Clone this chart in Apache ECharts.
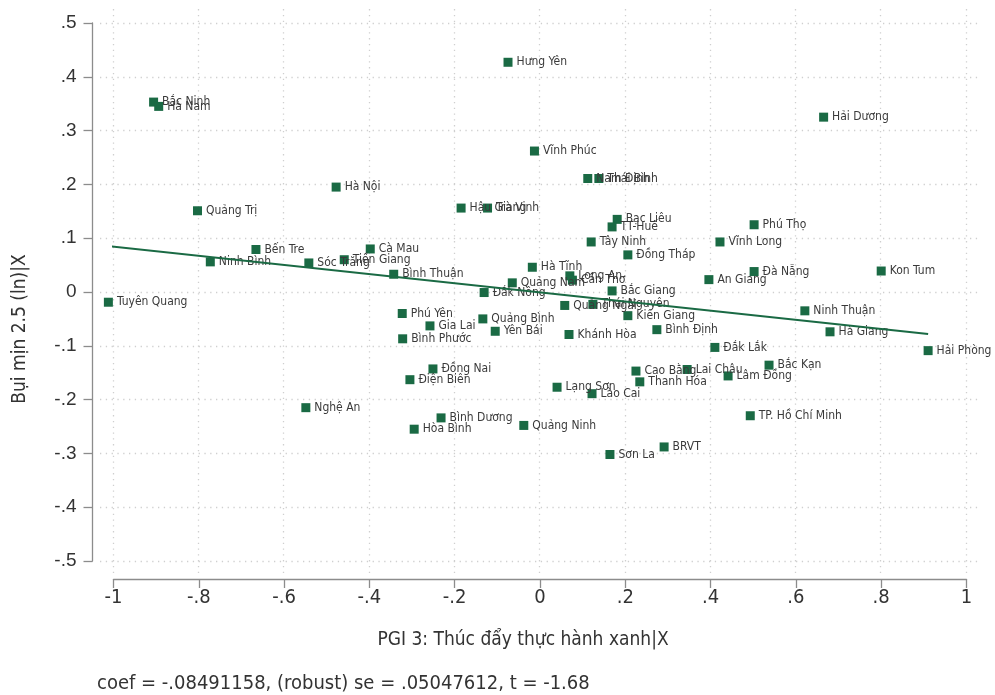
<!DOCTYPE html>
<html lang="vi">
<head>
<meta charset="UTF-8">
<title>Bụi mịn 2.5 - PGI 3</title>
<script src="https://cdn.jsdelivr.net/npm/echarts@6.0.0/dist/echarts.min.js"></script>
<style>
  html, body { margin: 0; padding: 0; background: #fff; }
  #chart { width: 995px; height: 695px; }
</style>
</head>
<body>
<div id="chart"></div>
<script type="text/javascript">
// tỉnh/thành và toạ độ (PGI 3 | X, Bụi mịn 2.5 | X)
var provinces = ['Bắc Ninh', 'Hà Nam', 'Hưng Yên', 'Hải Dương', 'Vĩnh Phúc', 'Nam Định', 'Thái Bình', 'Hà Nội',
  'Quảng Trị', 'Hậu Giang', 'Trà Vinh', 'Bạc Liêu', 'TT-Huế', 'Tây Ninh', 'Phú Thọ', 'Vĩnh Long',
  'Đồng Tháp', 'Đà Nẵng', 'Kon Tum', 'An Giang', 'Bến Tre', 'Ninh Bình', 'Sóc Trăng', 'Tiền Giang',
  'Cà Mau', 'Bình Thuận', 'Tuyên Quang', 'Phú Yên', 'Bình Phước', 'Gia Lai', 'Hà Tĩnh', 'Long An',
  'Cần Thơ', 'Quảng Nam', 'Đắk Nông', 'Bắc Giang', 'Quảng Ngãi', 'Thái Nguyên', 'Kiên Giang', 'Quảng Bình',
  'Yên Bái', 'Khánh Hòa', 'Bình Định', 'Đồng Nai', 'Ninh Thuận', 'Hà Giang', 'Hải Phòng', 'Đắk Lắk',
  'Bắc Kạn', 'Lai Châu', 'Lâm Đồng', 'Cao Bằng', 'Thanh Hóa', 'TP. Hồ Chí Minh', 'Lào Cai', 'Lạng Sơn',
  'Điện Biên', 'Nghệ An', 'Bình Dương', 'Hòa Bình', 'Quảng Ninh', 'Sơn La', 'BRVT'];
var pgiX = [-0.906, -0.894, -0.075, 0.665, -0.013, 0.112, 0.138, -0.478,
  -0.803, -0.185, -0.123, 0.181, 0.169, 0.120, 0.502, 0.422,
  0.206, 0.502, 0.800, 0.396, -0.666, -0.773, -0.542, -0.459,
  -0.398, -0.343, -1.012, -0.323, -0.322, -0.258, -0.018, 0.070,
  0.076, -0.065, -0.131, 0.169, 0.058, 0.124, 0.206, -0.134,
  -0.105, 0.068, 0.274, -0.251, 0.621, 0.680, 0.910, 0.410,
  0.537, 0.345, 0.441, 0.225, 0.234, 0.493, 0.122, 0.040,
  -0.305, -0.549, -0.232, -0.295, -0.038, 0.164, 0.291];
var pm25Y = [0.353, 0.345, 0.427, 0.325, 0.262, 0.211, 0.211, 0.195,
  0.151, 0.156, 0.156, 0.135, 0.121, 0.093, 0.125, 0.093,
  0.069, 0.038, 0.039, 0.023, 0.079, 0.056, 0.054, 0.060,
  0.080, 0.033, -0.019, -0.040, -0.087, -0.063, 0.046, 0.030,
  0.022, 0.017, -0.001, 0.002, -0.025, -0.023, -0.044, -0.050,
  -0.073, -0.079, -0.070, -0.143, -0.035, -0.074, -0.109, -0.103,
  -0.136, -0.144, -0.156, -0.147, -0.167, -0.230, -0.189, -0.177,
  -0.163, -0.215, -0.234, -0.255, -0.248, -0.302, -0.288];
// đường hồi quy (hai đầu mút)
var fitX = [-1.012, 0.910];
var fitY = [0.0855, -0.078];
// nhãn trục
var xTickLabels = ['-1', '-.8', '-.6', '-.4', '-.2', '0', '.2', '.4', '.6', '.8', '1'];
var yTickLabels = ['-.5', '-.4', '-.3', '-.2', '-.1', '0', '.1', '.2', '.3', '.4', '.5'];
var xGridValues = [-1, -0.8, -0.6, -0.4, -0.2, 0, 0.2, 0.4, 0.6, 0.8, 1];
var yGridValues = [-0.5, -0.4, -0.3, -0.2, -0.1, 0, 0.1, 0.2, 0.3, 0.4, 0.5];

var green = '#1a6a44';
var narrow = '"Liberation Sans Narrow", "DejaVu Sans Condensed", sans-serif';

var points = [];
for (var i = 0; i < provinces.length; i++) {
  points.push({ name: provinces[i], value: [pgiX[i], pm25Y[i]] });
}
var fitLine = [[fitX[0], fitY[0]], [fitX[1], fitY[1]]];

var gridMarks = [];
for (var i = 0; i < xGridValues.length; i++) gridMarks.push({ xAxis: xGridValues[i] });
for (var i = 0; i < yGridValues.length; i++) gridMarks.push({ yAxis: yGridValues[i] });

var myChart = echarts.init(document.getElementById('chart'), null, { renderer: 'canvas' });
myChart.setOption({
  animation: false,
  backgroundColor: '#fff',
  grid: [
    // vùng vẽ (lưới chấm)
    { left: 100, right: 15, top: 9, bottom: 122 },
    // vùng trục
    { left: 113.5, right: 28.5, top: 23, bottom: 134 }
  ],
  xAxis: [
    { gridIndex: 0, type: 'value', min: -1.0305, max: 1.0328, show: false },
    {
      gridIndex: 1, type: 'value', min: -1, max: 1, interval: 0.2, offset: 18,
      axisLine: { show: true, onZero: false, lineStyle: { color: '#8c8c8c', width: 1.3 } },
      axisTick: { show: true, length: 9, lineStyle: { color: '#8c8c8c', width: 1.3 } },
      splitLine: { show: false },
      axisLabel: {
        margin: 9, color: '#333', fontFamily: narrow, fontSize: 20,
        formatter: function (v, idx) { return xTickLabels[idx]; }
      }
    }
  ],
  yAxis: [
    { gridIndex: 0, type: 'value', min: -0.5223, max: 0.526, show: false },
    {
      gridIndex: 1, type: 'value', min: -0.5, max: 0.5, interval: 0.1, offset: 21,
      axisLine: { show: true, onZero: false, lineStyle: { color: '#8c8c8c', width: 1.3 } },
      axisTick: { show: true, length: 9, lineStyle: { color: '#8c8c8c', width: 1.3 } },
      splitLine: { show: false },
      axisLabel: {
        margin: 16, color: '#333', fontFamily: '"Liberation Sans", Arial, sans-serif', fontSize: 19,
        formatter: function (v, idx) { return yTickLabels[idx]; }
      }
    }
  ],
  series: [
    {
      // lưới chấm
      type: 'scatter', xAxisIndex: 0, yAxisIndex: 0, data: [], silent: true, zlevel: 0,
      markLine: {
        silent: true, symbol: ['none', 'none'], label: { show: false },
        lineStyle: { color: '#cfcfcf', width: 1.3, type: [1.3, 4.5] },
        data: gridMarks
      }
    },
    {
      name: 'tỉnh', type: 'scatter', xAxisIndex: 1, yAxisIndex: 1, clip: false, zlevel: 1,
      symbol: 'rect', symbolSize: 9,
      itemStyle: { color: green, opacity: 1 },
      label: {
        show: true, position: 'right', distance: 4, formatter: '{b}',
        color: '#3a3a3a', fontFamily: narrow, fontSize: 12
      },
      data: points, z: 3
    },
    {
      name: 'fit', type: 'line', xAxisIndex: 1, yAxisIndex: 1, clip: false, zlevel: 1,
      showSymbol: false, symbol: 'none',
      lineStyle: { color: green, width: 2 },
      data: fitLine, z: 4
    }
  ],
  graphic: [
    {
      type: 'text', x: 20, y: 329, rotation: Math.PI / 2,
      style: { text: 'Bụi mịn 2.5 (ln)|X', fill: '#333', font: '19px ' + narrow, align: 'center', verticalAlign: 'middle' }
    },
    {
      type: 'text', x: 523, y: 640,
      style: { text: 'PGI 3: Thúc đẩy thực hành xanh|X', fill: '#333', font: '19px ' + narrow, align: 'center', verticalAlign: 'middle' }
    },
    {
      type: 'text', x: 97, y: 684,
      style: { text: 'coef = -.08491158, (robust) se = .05047612, t = -1.68', fill: '#333', font: '20px ' + narrow, align: 'left', verticalAlign: 'middle' }
    }
  ]
});
</script>
</body>
</html>
